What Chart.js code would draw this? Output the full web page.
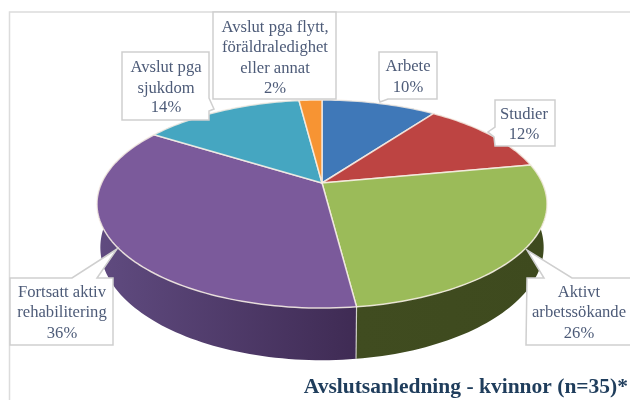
<!DOCTYPE html>
<html lang="sv">

<head>
    <meta charset="UTF-8">
    <title>Avslutsanledning - kvinnor</title>
    <script src="https://cdn.jsdelivr.net/npm/chart.js"></script>
    <style>
        body {
            margin: 0;
            background: #fff;
        }

        canvas {
            display: block;
        }
    </style>
</head>

<body>
    <canvas id="chart" width="630" height="400"></canvas>

    <script>
        const categories = [
            ["Arbete"],
            ["Studier"],
            ["Aktivt", "arbetssökande"],
            ["Fortsatt aktiv", "rehabilitering"],
            ["Avslut pga", "sjukdom"],
            ["Avslut pga flytt,", "föräldraledighet", "eller annat"],
        ];
        const values = [10, 12, 26, 36, 14, 2];
        const chartTitle = "Avslutsanledning - kvinnor (n=35)*";

        const topColors = ["#3f78b8", "#bd4442", "#9bbb59", "#7b5a9b", "#45a6c1", "#f79433"];
        // wall colours run left to right across each slice
        const wallColors = [
            ["#2a5078", "#2a5078"],
            ["#7a2b2a", "#7a2b2a"],
            ["#404c20", "#3e4a1e"],
            ["#604b80", "#3f2b54"],
            ["#2c6c80", "#2c6c80"],
            ["#a5601e", "#a5601e"],
        ];

        // callout boxes, same order as the categories
        const callouts = [
            { cx: 408, lines: [67, 88], box: [[379, 52], [437, 52], [437, 99], [388, 99], [380, 102], [379, 99]] },
            { cx: 524, lines: [115, 135], box: [[495, 100], [555, 100], [555, 146], [495, 146], [494, 137], [488, 132], [495, 127]] },
            { cx: 579, lines: [293, 313, 334], box: [[527, 278], [544, 278], [527, 250], [572, 278], [632, 278], [632, 345], [526, 345]] },
            { cx: 62, lines: [293, 313, 334], box: [[10, 278], [72, 278], [117, 249], [97, 278], [113, 278], [113, 345], [10, 345]] },
            { cx: 166, lines: [68, 89, 108], box: [[122, 52], [209, 52], [209, 98], [214, 109], [209, 111], [209, 120], [122, 120]] },
            { cx: 275, lines: [28, 48, 69, 89], box: [[213, 12], [336, 12], [336, 99], [213, 99]] },
        ];

        // perspective of the pie on the page
        const pie = { x: 322, y: 183, a: 220.4, b: 99.8, q: 0.202, depth: 41.6, baseShrink: 0.985 };

        function project(angle, drop) {
            const u = Math.cos(angle);
            const v = Math.sin(angle);
            const w = 1 - pie.q * v;
            const a = drop ? pie.a * pie.baseShrink : pie.a;
            return [pie.x + (a * u) / w, pie.y + (pie.b * v) / w + (drop ? pie.depth / w : 0)];
        }

        function rimPoints(arc, drop) {
            const pts = [];
            const steps = Math.ceil((arc.endAngle - arc.startAngle) * 40);
            for (let i = 0; i <= steps; i++) {
                pts.push(project(arc.startAngle + ((arc.endAngle - arc.startAngle) * i) / steps, drop));
            }
            return pts;
        }

        function tracePath(ctx, pts) {
            ctx.beginPath();
            pts.forEach((p, i) => (i ? ctx.lineTo(p[0], p[1]) : ctx.moveTo(p[0], p[1])));
            ctx.closePath();
        }

        const framePlugin = {
            id: "frame",
            beforeDraw(chart) {
                const ctx = chart.ctx;
                ctx.save();
                ctx.strokeStyle = "#dcdcdc";
                ctx.lineWidth = 1.5;
                ctx.beginPath();
                ctx.moveTo(630, 12);
                ctx.lineTo(9.5, 12);
                ctx.lineTo(9.5, 400);
                ctx.stroke();
                ctx.restore();
            },
        };

        // takes over the slice drawing so the arcs get walls and perspective
        const pie3dPlugin = {
            id: "pie3d",
            beforeDatasetsDraw(chart) {
                const ctx = chart.ctx;
                const arcs = chart.getDatasetMeta(0).data;
                ctx.save();

                arcs.forEach((arc, i) => {
                    const rim = rimPoints(arc, false);
                    const low = rimPoints(arc, true).reverse();
                    const xs = rim.map((p) => p[0]);
                    const grad = ctx.createLinearGradient(Math.min(...xs), 0, Math.max(...xs), 0);
                    grad.addColorStop(0, wallColors[i][0]);
                    grad.addColorStop(1, wallColors[i][1]);
                    ctx.fillStyle = grad;
                    tracePath(ctx, rim.concat(low));
                    ctx.fill();
                });

                // seam on the front wall where two slices meet
                arcs.forEach((arc) => {
                    const a = project(arc.startAngle, false);
                    const b = project(arc.startAngle, true);
                    if (Math.sin(arc.startAngle) > 0.5) {
                        ctx.strokeStyle = "rgba(235,235,225,0.8)";
                        ctx.lineWidth = 1.2;
                        ctx.beginPath();
                        ctx.moveTo(a[0], a[1]);
                        ctx.lineTo(b[0], b[1]);
                        ctx.stroke();
                    }
                });

                arcs.forEach((arc, i) => {
                    tracePath(ctx, [[pie.x, pie.y]].concat(rimPoints(arc, false)));
                    ctx.fillStyle = topColors[i];
                    ctx.fill();
                    ctx.strokeStyle = "rgba(248,240,230,0.85)";
                    ctx.lineWidth = 1.5;
                    ctx.lineJoin = "round";
                    ctx.stroke();
                });

                ctx.restore();
                return false;
            },
        };

        const calloutPlugin = {
            id: "callouts",
            afterDraw(chart) {
                const ctx = chart.ctx;
                ctx.save();
                ctx.font = "16.6px 'Liberation Serif'";
                ctx.textAlign = "center";
                ctx.textBaseline = "middle";
                callouts.forEach((c, i) => {
                    tracePath(ctx, c.box);
                    ctx.fillStyle = "#fff";
                    ctx.fill();
                    ctx.strokeStyle = "#cfcfcf";
                    ctx.lineWidth = 1.5;
                    ctx.stroke();
                    ctx.fillStyle = "#4d5b78";
                    categories[i].concat(values[i] + "%").forEach((line, n) => {
                        ctx.fillText(line, c.cx, c.lines[n]);
                    });
                });
                ctx.restore();
            },
        };

        new Chart(document.getElementById("chart"), {
            type: "pie",
            data: {
                labels: categories,
                datasets: [{ data: values, backgroundColor: topColors }],
            },
            options: {
                responsive: false,
                animation: false,
                layout: { padding: { right: 2 } },
                plugins: {
                    legend: { display: false },
                    tooltip: { enabled: false },
                    title: {
                        display: true,
                        text: chartTitle,
                        position: "bottom",
                        align: "end",
                        color: "#1f3d5c",
                        font: { family: "'Liberation Serif'", size: 21.5, weight: "bold" },
                        padding: { top: 0, bottom: 0 },
                    },
                },
            },
            plugins: [framePlugin, pie3dPlugin, calloutPlugin],
        });
    </script>
</body>

</html>
